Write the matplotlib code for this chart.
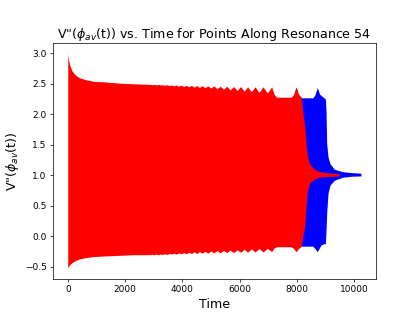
import matplotlib
matplotlib.use("Agg")
import matplotlib.pyplot as plt

# envelope of V''(phi_av(t)) (max / min of the fast oscillation)
red_time = [0, 30, 80, 150, 250, 400, 600, 900, 1300, 1800, 2300,
            2875, 2945, 3015, 3088, 3160, 3235, 3310, 3388, 3465, 3545, 3625,
            3708, 3790, 3875, 3960, 4048, 4135, 4225, 4315, 4408, 4500, 4595,
            4690, 4790, 4890, 4995, 5100, 5210, 5320, 5435, 5550, 5670, 5790,
            5913, 6036, 6157, 6278, 6408, 6538, 6677, 6816, 6967, 7118,
            7200, 7290, 7800, 7890, 7970, 8050, 8148, 8206, 8276, 8322, 8356,
            8437, 8611, 8785, 9000, 9250, 9480]
red_upper = [2.99, 2.88, 2.79, 2.71, 2.65, 2.60, 2.57, 2.54, 2.53, 2.51, 2.50,
             2.49, 2.485, 2.49, 2.48, 2.49, 2.48, 2.485, 2.475, 2.485, 2.47, 2.48,
             2.465, 2.48, 2.46, 2.48, 2.455, 2.475, 2.45, 2.475, 2.445, 2.47, 2.44,
             2.47, 2.435, 2.465, 2.43, 2.465, 2.42, 2.46, 2.41, 2.46, 2.40, 2.455,
             2.39, 2.455, 2.38, 2.45, 2.37, 2.45, 2.36, 2.45, 2.35, 2.45,
             2.33, 2.28, 2.28, 2.33, 2.45, 2.33, 2.28, 2.04, 1.78, 1.51, 1.35,
             1.19, 1.10, 1.06, 1.045, 1.035, 1.025]
red_lower = [-0.52, -0.49, -0.46, -0.43, -0.40, -0.37, -0.35, -0.33, -0.32, -0.31, -0.30,
             -0.30, -0.295, -0.30, -0.29, -0.30, -0.29, -0.295, -0.285, -0.295, -0.28, -0.29,
             -0.275, -0.29, -0.27, -0.285, -0.265, -0.285, -0.26, -0.28, -0.255, -0.28, -0.25,
             -0.275, -0.245, -0.275, -0.24, -0.27, -0.235, -0.27, -0.23, -0.265, -0.225, -0.265,
             -0.22, -0.26, -0.21, -0.26, -0.205, -0.255, -0.20, -0.255, -0.195, -0.25,
             -0.19, -0.17, -0.17, -0.20, -0.25, -0.20, -0.16, 0.00, 0.18, 0.50, 0.71,
             0.87, 0.94, 0.97, 0.98, 0.985, 0.99]

blue_time = [7200, 7290, 7800, 7890, 7970, 8050, 8150, 8550, 8630, 8710, 8790,
             8843, 8940, 8993, 9016, 9039, 9086, 9155, 9306, 9595, 9900, 10233]
blue_upper = [2.31, 2.27, 2.27, 2.32, 2.44, 2.32, 2.27, 2.27, 2.32, 2.44, 2.33,
              2.31, 2.27, 2.25, 2.04, 1.51, 1.30, 1.19, 1.10, 1.06, 1.045, 1.035]
blue_lower = [-0.18, -0.16, -0.16, -0.19, -0.24, -0.19, -0.16, -0.16, -0.20, -0.25, -0.18,
              -0.14, -0.12, -0.12, 0.10, 0.39, 0.71, 0.84, 0.92, 0.97, 0.985, 0.99]

fig = plt.figure(figsize=(415 / 65, 322 / 65), dpi=65)
ax = fig.add_axes([0.128, 0.134, 0.777, 0.732])

ax.fill_between(blue_time, blue_lower, blue_upper, color='blue', linewidth=0)
ax.fill_between(red_time, red_lower, red_upper, color='red', linewidth=0)
ax.margins(0.05)

ax.set_title('V"($\\phi_{av}$(t)) vs. Time for Points Along Resonance 54', fontsize=14)
ax.set_xlabel('Time', fontsize=14)
ax.set_ylabel('V"($\\phi_{av}$(t))', fontsize=14)

fig.savefig('out.png', dpi=65)
